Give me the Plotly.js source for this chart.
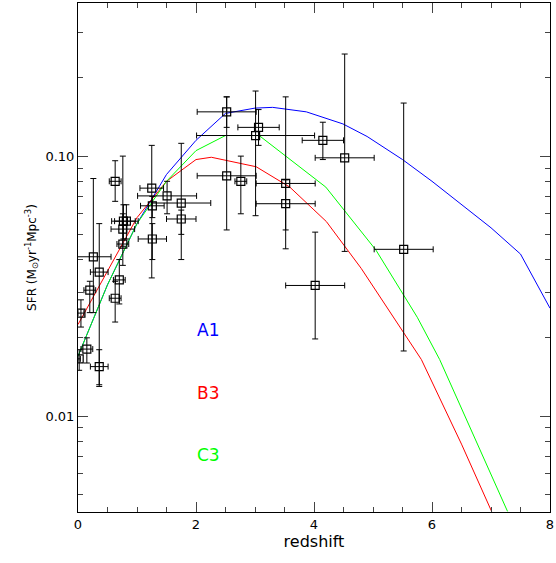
<!DOCTYPE html><html><head><script src="https://cdn.plot.ly/plotly-3.0.1.min.js"></script></head><body style="margin:0"><div id="c" style="width:556px;height:563px"></div><script>
const zx=[0.02,0.05,0.15,0.2,0.26,0.36,0.36,0.63,0.63,0.70,0.76,0.76,0.77,0.82,1.25,1.26,1.26,1.51,1.75,1.75,2.52,2.52,2.76,3.01,3.06,3.52,3.52,4.02,4.15,4.52,5.52];
const sfr=[0.0166,0.0249,0.0181,0.0305,0.041,0.0358,0.0155,0.080,0.0284,0.0334,0.0459,0.0524,0.0562,0.0562,0.0753,0.0644,0.048,0.0703,0.066,0.0573,0.148,0.084,0.080,0.120,0.129,0.0785,0.0656,0.0318,0.115,0.0985,0.0438];
const yHi=[0.018,0.028,0.02,0.033,0.082,0.055,0.018,0.096,0.033,0.04,0.1,0.06,0.065,0.065,0.11,0.07,0.055,0.08,0.112,0.062,0.169,0.169,0.1,0.178,0.151,0.169,0.081,0.051,0.135,0.247,0.16];
const yLo=[0.015,0.022,0.016,0.025,0.025,0.013,0.0132,0.067,0.023,0.027,0.038,0.045,0.048,0.048,0.034,0.058,0.04,0.06,0.04,0.05,0.129,0.052,0.06,0.059,0.11,0.052,0.044,0.0198,0.097,0.043,0.0178];
const xErr=[0.02,0.05,0.1,0.1,0.3,0.15,0.15,0.1,0.1,0.1,0.1,0.2,0.2,0.2,0.2,0.2,0.24,0.5,0.5,0.25,0.5,0.5,0.1,1.0,0.35,0.5,0.5,0.5,0.35,0.5,0.5];
const cx=[0,0.5,1,1.5,2,2.5,3,3.3,3.87,4.49,4.9,5.5,6,6.5,7,7.5,8];
const a1=[0.017,0.032,0.055,0.085,0.115,0.146,0.153,0.154,0.148,0.133,0.119,0.097,0.08,0.065,0.053,0.042,0.026];
const bx=[0,0.5,1,1.5,2,2.26,3.02,3.59,4.21,4.8,5.5,5.82,6.5,7.01];
const b3=[0.0225,0.036,0.058,0.08,0.097,0.099,0.091,0.076,0.056,0.037,0.0214,0.0165,0.0078,0.0043];
const gx=[0,0.5,1,1.5,2,2.5,3.07,3.59,4.2,5.05,5.75,6.13,6.97,7.28];
const c3=[0.017,0.032,0.055,0.08,0.105,0.12,0.12,0.097,0.076,0.0435,0.024,0.0165,0.0062,0.0043];
const data=[
{x:cx,y:a1,mode:'lines',line:{color:'#0000ff',width:1}},
{x:bx,y:b3,mode:'lines',line:{color:'#ff0000',width:1}},
{x:gx,y:c3,mode:'lines',line:{color:'#00ff00',width:1}},
{x:zx,y:sfr,mode:'markers',marker:{symbol:'square-open',size:8,color:'black',line:{width:1.2}},
 error_y:{type:'data',symmetric:false,array:yHi.map((v,i)=>v-sfr[i]),arrayminus:yLo.map((v,i)=>sfr[i]-v),color:'black',thickness:1,width:3},
 error_x:{type:'data',array:xErr,color:'black',thickness:1,width:3}}];
const minors=[];for(const d of [0.001,0.01,0.1])for(let k=2;k<=9;k++)minors.push(d*k);
const layout={width:556,height:563,margin:{l:78,r:6,t:3,b:51},showlegend:false,plot_bgcolor:'white',paper_bgcolor:'white',
font:{family:'DejaVu Sans, sans-serif',size:13,color:'black'},
xaxis:{range:[0,8],tickvals:[0,2,4,6,8],ticks:'inside',ticklen:10,mirror:'allticks',showline:true,linecolor:'black',showgrid:false,zeroline:false,
 minor:{dtick:0.5,ticks:'inside',ticklen:5},title:{text:'redshift',standoff:4}},
yaxis:{type:'log',range:[-2.369,-0.411],tickvals:[0.01,0.1],ticktext:['0.01','0.10'],ticks:'inside',ticklen:10,mirror:'allticks',showline:true,linecolor:'black',showgrid:false,zeroline:false,
 minor:{tickvals:minors,ticks:'inside',ticklen:5},title:{text:'SFR (M<sub>⊙</sub>yr<sup>-1</sup>Mpc<sup>-3</sup>)',standoff:6,font:{size:12}}},
annotations:[
{x:1.98,y:Math.log10(0.0215),text:'A1',showarrow:false,xanchor:'left',font:{color:'#0000ff',size:17}},
{x:1.98,y:Math.log10(0.0123),text:'B3',showarrow:false,xanchor:'left',font:{color:'#ff0000',size:17}},
{x:1.98,y:Math.log10(0.0071),text:'C3',showarrow:false,xanchor:'left',font:{color:'#00ff00',size:17}}]};
Plotly.newPlot('c',data,layout,{displayModeBar:false});
</script></body></html>
